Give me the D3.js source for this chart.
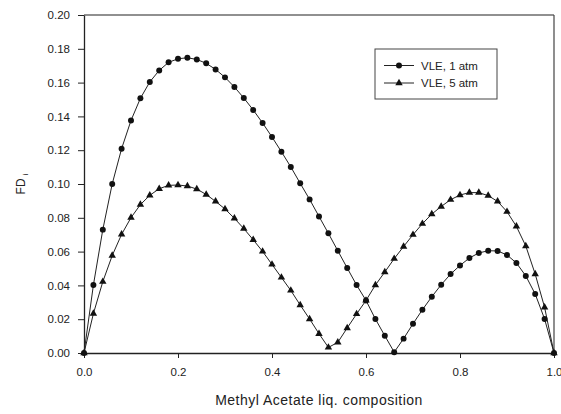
<!DOCTYPE html>
<html><head><meta charset="utf-8">
<script src="https://cdn.jsdelivr.net/npm/d3@7"></script>
<style>
html,body{margin:0;padding:0;background:#fff;}
text{font-family:"Liberation Sans",Arial,sans-serif;fill:#222;}
</style></head>
<body><svg id="c" width="561" height="414"></svg>
<script>
const xComp = [0,0.02,0.04,0.06,0.08,0.10,0.12,0.14,0.16,0.18,0.20,0.22,0.24,0.26,0.28,0.30,0.32,0.34,0.36,0.38,0.40,0.42,0.44,0.46,0.48,0.50,0.52,0.54,0.56,0.58,0.60,0.62,0.64,0.66,0.68,0.70,0.72,0.74,0.76,0.78,0.80,0.82,0.84,0.86,0.88,0.90,0.92,0.94,0.96,0.98,1.00];
const vle1atm = [0,0.0402,0.0730,0.1000,0.1209,0.1376,0.1507,0.1604,0.1672,0.1720,0.1741,0.1747,0.1737,0.1714,0.1678,0.1631,0.1574,0.1509,0.1438,0.1361,0.1278,0.1191,0.1101,0.1004,0.0909,0.0808,0.0708,0.0605,0.0503,0.0402,0.0311,0.0201,0.0102,0.0005,0.0085,0.0173,0.0256,0.0333,0.0404,0.0467,0.0518,0.0562,0.0592,0.0605,0.0604,0.0580,0.0533,0.0456,0.0349,0.0201,0];
const vle5atm = [0,0.0233,0.0422,0.0576,0.0702,0.0801,0.0878,0.0933,0.0972,0.0992,0.0994,0.0988,0.0970,0.0938,0.0897,0.0852,0.0797,0.0736,0.0670,0.0601,0.0524,0.0447,0.0370,0.0284,0.0201,0.0114,0.0033,0.0063,0.0148,0.0231,0.0311,0.0402,0.0479,0.0558,0.0630,0.0700,0.0765,0.0822,0.0867,0.0907,0.0935,0.0949,0.0949,0.0931,0.0897,0.0836,0.0749,0.0633,0.0467,0.0270,0];
const xTicks = [0,0.2,0.4,0.6,0.8,1.0];
const yTicks = [0,0.02,0.04,0.06,0.08,0.10,0.12,0.14,0.16,0.18,0.20];
const seriesNames = ["VLE, 1 atm","VLE, 5 atm"];
const xTitle = "Methyl Acetate liq. composition";
const yTitle = "FD";
const ySub = "i";

const svg = d3.select("#c");
const L=84, T=15, W=470, H=338;
const x = d3.scaleLinear().domain([0,1]).range([L, L+W]);
const y = d3.scaleLinear().domain([0,0.2]).range([T+H, T]);

// frame top/right
svg.append("line").attr("x1",L).attr("x2",L+W).attr("y1",T).attr("y2",T).attr("stroke","#222").attr("stroke-width",1.2);
svg.append("line").attr("x1",L+W).attr("x2",L+W).attr("y1",T).attr("y2",T+H).attr("stroke","#444").attr("stroke-width",1.2);

const xa = svg.append("g").attr("transform",`translate(0,${T+H})`)
  .call(d3.axisBottom(x).tickValues(xTicks).tickFormat(d3.format(".1f")).tickSize(5).tickPadding(10).tickSizeOuter(0));
const ya = svg.append("g").attr("transform",`translate(${L},0)`)
  .call(d3.axisLeft(y).tickValues(yTicks).tickFormat(d3.format(".2f")).tickSize(6).tickPadding(8).tickSizeOuter(0));
[xa,ya].forEach(g=>{
  g.selectAll("path").attr("stroke","#222").attr("stroke-width",1.3);
  g.selectAll("line").attr("stroke","#222").attr("stroke-width",1);
  g.selectAll("text").attr("font-size","11.5px").attr("fill","#222").attr("font-family","'Liberation Sans',Arial,sans-serif");
});

const line = d3.line().x((d,i)=>x(xComp[i])).y(d=>y(d));
[vle1atm, vle5atm].forEach(s=>{
  svg.append("path").datum(s).attr("d",line).attr("fill","none").attr("stroke","#222").attr("stroke-width",1);
});
const circ = d3.symbol().type(d3.symbolCircle).size(28);
const tri = d3.symbol().type(d3.symbolTriangle).size(24);
svg.append("g").selectAll("path").data(vle1atm).join("path")
  .attr("d",circ).attr("transform",(d,i)=>`translate(${x(xComp[i])},${y(d)})`).attr("fill","#111");
svg.append("g").selectAll("path").data(vle5atm).join("path")
  .attr("d",tri).attr("transform",(d,i)=>`translate(${x(xComp[i])},${y(d)})`).attr("fill","#111");

// legend
const lg = svg.append("g");
lg.append("rect").attr("x",375).attr("y",49).attr("width",122).attr("height",50).attr("fill","#fff").attr("stroke","#444").attr("stroke-width",1);
const syms=[circ,tri];
seriesNames.forEach((n,i)=>{
  const yy = 65.5 + i*17.5;
  lg.append("line").attr("x1",384).attr("x2",414).attr("y1",yy).attr("y2",yy).attr("stroke","#222").attr("stroke-width",1);
  lg.append("path").attr("d",syms[i]).attr("transform",`translate(399,${yy})`).attr("fill","#111");
  lg.append("text").attr("x",421).attr("y",yy).attr("dy","0.35em").attr("font-size","11.5px").text(n);
});

// titles
svg.append("text").attr("x",319).attr("y",405).attr("text-anchor","middle").attr("font-size","14px").attr("letter-spacing","0.5px").text(xTitle);
const yt = svg.append("text").attr("transform","translate(25,184) rotate(-90)").attr("text-anchor","middle").attr("font-size","12px");
yt.append("tspan").text(yTitle);
yt.append("tspan").attr("font-size","8px").attr("dx","3").attr("dy","3").text(ySub);
</script></body></html>
